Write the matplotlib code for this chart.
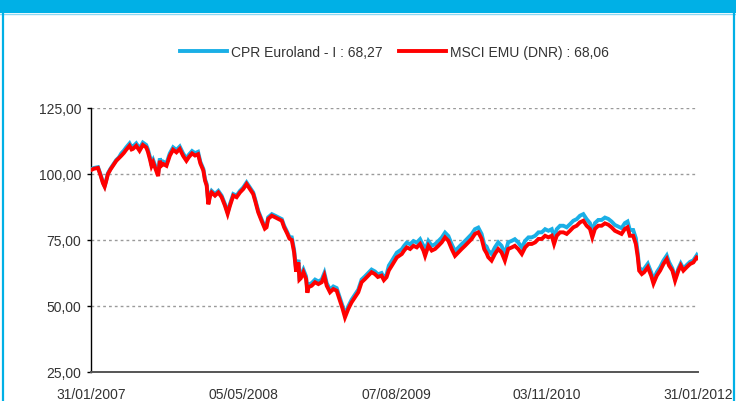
import matplotlib
matplotlib.use("Agg")
import matplotlib.pyplot as plt
from matplotlib.patches import Rectangle
from matplotlib.lines import Line2D
import pandas as pd

plt.rcParams['font.family'] = ['Liberation Sans', 'DejaVu Sans']

start_date = "2007-01-31"
end_date = "2012-01-31"

# days elapsed since 31/01/2007 for each observation
day_offsets = [
    0, 9, 21, 29, 36, 41, 45, 51, 59, 66, 76, 84,
    91, 99, 106, 116, 122, 126, 136, 146, 156, 166, 171, 177, 182, 187, 196, 202, 207, 212,
    217, 227, 237, 247, 257, 267, 277, 287, 295, 304, 313, 322,
    329, 338, 343, 348, 353, 358, 363, 373, 383, 393, 403, 411, 418, 428, 438, 448, 458, 468,
    478, 488, 495, 503, 513, 523, 528, 533, 544, 554, 563, 574, 581, 590, 597,
    604, 611, 617, 624, 627, 631, 639, 647, 651, 654, 664, 674, 684, 694, 702, 709, 719, 729,
    739, 749, 757, 764, 774, 784, 794, 804, 814, 824, 834, 844, 854, 863, 874, 881, 889,
    896, 905, 920, 935, 942, 950, 960, 970, 980, 990, 1000, 1005, 1015, 1025, 1035, 1045,
    1055, 1065, 1075, 1085, 1095, 1105, 1115, 1125, 1135, 1145, 1155, 1165, 1175, 1183,
    1190, 1195, 1205, 1215, 1225, 1235, 1245, 1255, 1266, 1275, 1285, 1296, 1306, 1316, 1326,
    1336, 1346, 1356, 1366, 1376, 1386, 1393, 1401, 1411, 1421, 1431, 1441, 1451, 1461, 1471,
    1481, 1491,
    1501, 1508, 1516, 1526, 1536, 1546, 1556, 1566, 1576, 1586, 1596, 1606, 1614, 1621, 1631, 1639,
    1645, 1649, 1657, 1664, 1675, 1685, 1692, 1702, 1712, 1722, 1732, 1739,
    1749, 1757, 1767, 1774, 1782, 1792, 1802, 1812, 1822,
    1826,
]

msci_emu = [
    101.5, 102.0, 102.3, 99.4, 96.5, 95.2, 97.0, 100.0, 101.8, 103.1, 105.0, 106.0,
    106.9, 108.0, 109.2, 110.7, 109.3, 109.5, 110.7, 108.8, 111.0, 110.1, 108.5, 105.7, 103.0, 104.4,
    101.3, 99.2, 105.0, 103.2, 103.8, 103.1, 106.9, 109.2, 108.2, 109.5, 106.9, 105.0, 106.5, 107.8,
    107.0, 107.5,
    104.0, 101.3, 97.5, 95.6, 88.5, 91.5, 93.0, 91.8, 93.0, 91.2, 88.0, 84.9, 88.0, 91.8, 91.2, 93.0,
    94.3, 96.2, 94.3, 92.4, 89.3, 85.5, 82.3, 79.3, 79.8, 83.0, 84.2, 83.6, 83.0, 82.3, 79.8, 77.5, 75.5,
    75.0, 70.3, 63.0, 66.5, 60.0, 60.5, 62.8, 60.2, 55.0, 57.1, 57.7, 59.0, 58.3, 59.0, 61.5, 57.7,
    55.2, 56.4, 55.8, 52.0, 48.9, 45.7, 48.9, 51.4, 53.3, 55.2, 59.0, 60.2, 61.5, 62.8, 62.1, 61.0,
    61.5, 59.8, 60.9,
    63.5, 65.3, 68.4, 69.7, 71.0, 72.2, 71.6, 72.8, 72.2, 73.5, 71.0, 69.0, 72.8, 71.0, 71.6, 72.8,
    74.1, 76.0, 74.7, 71.6, 69.0, 70.3, 71.6, 72.8, 74.1, 75.4, 77.3, 77.9, 75.5, 71.5,
    70.0, 68.5, 67.2, 69.7, 71.6, 70.3, 67.2, 71.6, 72.2, 72.8, 71.6, 69.7, 72.2, 73.5, 73.5, 74.1,
    75.4, 75.4, 76.6, 76.0, 76.6, 73.5, 76.6, 77.9, 77.9, 77.3, 78.5, 79.8, 80.4, 81.7, 82.3, 80.4,
    79.2, 76.0, 79.2, 80.4, 80.4, 81.3, 80.8, 79.8, 78.5, 77.9, 77.3, 79.2, 79.8, 76.6, 76.6, 73.5,
    68.4, 63.4, 62.1, 62.8, 64.7, 61.5, 58.5, 61.5, 63.4, 65.9, 67.8, 65.3,
    63.4, 59.6, 63.4, 65.3, 63.4, 64.7, 65.9, 66.5, 68.4,
    68.06,
]

cpr_euroland = [
    101.8, 102.3, 102.6, 99.7, 96.8, 95.5, 97.3, 100.3, 102.1, 103.4, 105.3, 106.3,
    107.8, 108.9, 110.1, 111.6, 110.2, 110.4, 111.6, 109.7, 111.9, 111.0, 109.4, 106.6, 103.9, 105.3,
    102.2, 100.1, 105.9, 104.1, 104.7, 104.0, 107.8, 110.1, 109.1, 110.4, 107.8, 105.9, 107.4, 108.7,
    107.9, 108.4,
    104.6, 101.9, 98.1, 96.2, 89.1, 92.1, 93.6, 92.4, 93.6, 91.8, 88.6, 85.5, 88.6, 92.4, 91.8, 93.6,
    94.9, 96.8, 94.9, 93.0, 89.9, 86.1, 82.9, 79.9, 80.4, 83.6, 84.8, 84.2, 83.6, 82.9, 80.4, 78.1, 76.1,
    76.0, 71.3, 64.0, 67.5, 61.0, 61.5, 63.8, 61.2, 56.0, 58.1, 58.7, 60.0, 59.3, 60.0, 62.5, 58.7,
    56.2, 57.4, 56.8, 53.0, 49.9, 46.7, 49.9, 52.4, 54.3, 56.2, 60.0, 61.2, 62.5, 63.8, 63.1, 62.0,
    62.5, 60.8, 61.9,
    65.3, 67.1, 70.2, 71.5, 72.8, 74.0, 73.4, 74.6, 74.0, 75.3, 72.8, 70.8, 74.6, 72.8, 73.4, 74.6,
    75.9, 77.8, 76.5, 73.4, 70.8, 72.1, 73.4, 74.6, 75.9, 77.2, 79.1, 79.7, 77.3, 73.3,
    72.5, 71.0, 69.7, 72.2, 74.1, 72.8, 69.7, 74.1, 74.7, 75.3, 74.1, 72.2, 74.7, 76.0, 76.0, 76.6,
    77.9, 77.9, 79.1, 78.5, 79.1, 76.0, 79.1, 80.4, 80.4, 79.8, 81.0, 82.3, 82.9, 84.2, 84.8, 82.9,
    81.4, 78.2, 81.4, 82.6, 82.6, 83.5, 83.0, 82.0, 80.7, 80.1, 79.5, 81.4, 82.0, 78.8, 78.8, 75.7,
    69.7, 64.7, 63.4, 64.1, 66.0, 62.8, 59.8, 62.8, 64.7, 67.2, 69.1, 66.6,
    64.2, 60.4, 64.2, 66.1, 64.2, 65.5, 66.7, 67.3, 69.2,
    68.27,
]

series_names = ["CPR Euroland - I : 68,27", "MSCI EMU (DNR) : 68,06"]
y_ticks = [25, 50, 75, 100, 125]
x_tick_labels = ["31/01/2007", "05/05/2008", "07/08/2009", "03/11/2010", "31/01/2012"]

dates = pd.to_datetime(start_date) + pd.to_timedelta(day_offsets, unit="D")

W, H = 736, 402
fig = plt.figure(figsize=(W / 100, H / 100), dpi=100)
fig.patch.set_facecolor("white")

# header band and side borders
fig.patches.append(Rectangle((0, 1 - 14 / H), 1, 14 / H, transform=fig.transFigure,
                             facecolor="#00B0E6", edgecolor="none", zorder=0))
fig.add_artist(Line2D([0, 1], [1 - 15 / H, 1 - 15 / H], transform=fig.transFigure,
                      color="#8FD8F2", lw=1))
fig.add_artist(Line2D([2.5 / W, 2.5 / W], [0, 1 - 14 / H], transform=fig.transFigure,
                      color="#00B0E6", lw=1.6))
fig.add_artist(Line2D([733.5 / W, 733.5 / W], [0, 1 - 14 / H], transform=fig.transFigure,
                      color="#00B0E6", lw=1.6))

left, right = 91 / W, 698 / W
bottom, top = 1 - 373 / H, 1 - 109 / H
ax = fig.add_axes([left, bottom, right - left, top - bottom])

blue_c = "#1AAFE6"
red_c = "#FF0000"
l1, = ax.plot(dates, cpr_euroland, color=blue_c, lw=2.8, solid_joinstyle="miter", zorder=3)
l2, = ax.plot(dates, msci_emu, color=red_c, lw=2.8, solid_joinstyle="miter", zorder=4)

ax.set_ylim(25, 125)
ax.set_xlim(pd.to_datetime(start_date), pd.to_datetime(end_date))

ax.set_yticks(y_ticks)
ax.set_yticklabels([f"{v:.2f}".replace(".", ",") for v in y_ticks])
tick_dates = pd.to_datetime(x_tick_labels, format="%d/%m/%Y")
ax.set_xticks(tick_dates)
ax.set_xticklabels(x_tick_labels)

for v in y_ticks[1:]:
    ax.axhline(v, color="#9A9A9A", lw=1.0, ls=(0, (2, 2.2)), zorder=1)

for s in ["top", "right"]:
    ax.spines[s].set_visible(False)
ax.spines["left"].set_color("#000000")
ax.spines["left"].set_linewidth(1.0)
ax.spines["bottom"].set_color("#555555")
ax.spines["bottom"].set_linewidth(1.4)

ax.tick_params(axis="y", length=3, width=1, color="#000000", pad=4,
               labelsize=10, labelcolor="#333333")
ax.tick_params(axis="x", length=0, pad=11, labelsize=10, labelcolor="#333333")

fig.legend([l1, l2], series_names, loc="center", bbox_to_anchor=(0.536, 1 - 53 / H),
           ncol=2, frameon=False, fontsize=10, handlelength=3.4, handletextpad=0.25,
           columnspacing=1.2, labelcolor="#333333")

fig.savefig("out.png", dpi=100)
